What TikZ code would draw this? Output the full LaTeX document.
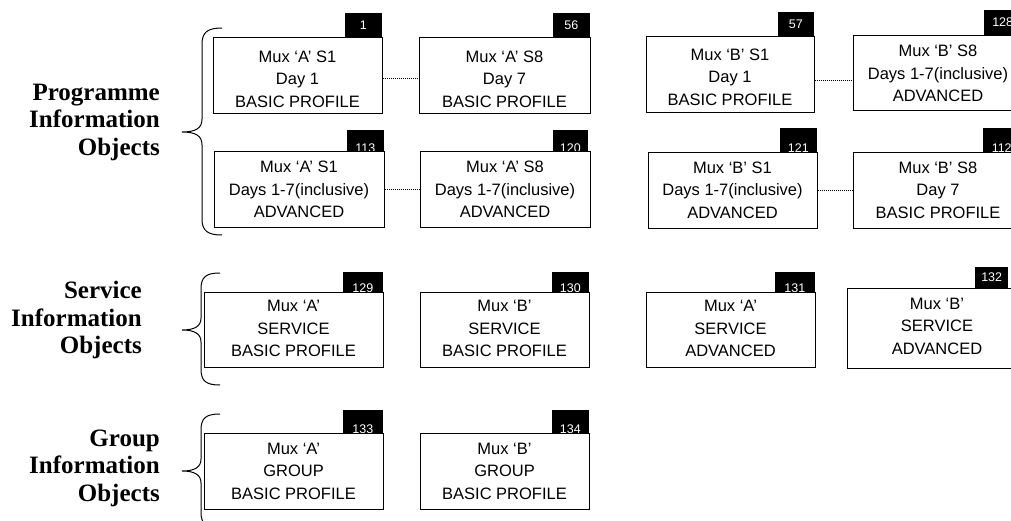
\documentclass[tikz,border=0pt]{standalone}
\usepackage{fontspec}
\setmainfont{Liberation Serif}
\newfontfamily\arialf{Liberation Sans}
\begin{document}
\begin{tikzpicture}[x=1pt,y=-1pt,
  box/.style={draw, fill=white, line width=1pt, minimum width=170pt, minimum height=76pt, inner sep=0pt},
  boxtext/.style={align=center, font=\arialf\fontsize{16.5}{22.5}\selectfont, inner sep=0pt},
  tag/.style={fill=black, draw=none, minimum width=37pt, minimum height=24pt, inner sep=0pt},
  tagnum/.style={text=white, font=\arialf\fontsize{12.5}{12.5}\selectfont, inner sep=0pt},
  lab/.style={align=right, font=\fontsize{25}{27.5}\selectfont\bfseries, inner sep=0pt},
  brace/.style={line width=1pt},
  conn/.style={line width=0.8pt, dash pattern=on 1pt off 1pt}]
\useasboundingbox (0,0) rectangle (1011,520);
\clip (0,0) rectangle (1011,520);

% ---- labels
\node[lab, anchor=east] (lprog) at (160,122) {Programme\\Information\\Objects};
\node[lab, anchor=east] (lserv) at (142,320) {Service\\Information\\Objects};
\node[lab, anchor=east] (lgrp) at (160,468) {Group\\Information\\Objects};

% ---- braces
\draw[brace] (222,28) .. controls (208,28) and (202,32) .. (202,44) -- (202,119) .. controls (202,128) and (196,132) .. (182,132) .. controls (196,132) and (202,136) .. (202,145) -- (202,219) .. controls (202,231) and (208,235) .. (222,235);
\draw[brace] (220,273) .. controls (206,273) and (201,277) .. (201,289) -- (201,318) .. controls (201,326) and (195,330) .. (182,330) .. controls (195,330) and (201,334) .. (201,342) -- (201,369) .. controls (201,381) and (206,385) .. (220,385);
\draw[brace] (220,414) .. controls (206,414) and (201,418) .. (201,430) -- (201,459) .. controls (201,467) and (195,471) .. (182,471) .. controls (195,471) and (201,475) .. (201,483) -- (201,512) .. controls (201,524) and (206,528) .. (220,528);

% ---- tags (drawn before boxes so the boxes cover the lower part of some numbers)
\node[tag, anchor=south east] (t1) at (382,37) {};
\node[tagnum] (n1) at (t1.center) {1};
\node[tag, anchor=south east] (t56) at (590,37) {};
\node[tagnum] (n56) at (t56.center) {56};
\node[tag, anchor=south east, minimum width=36pt] (t57) at (814,36) {};
\node[tagnum] (n57) at (t57.center) {57};
\node[tag, anchor=south west, minimum height=25pt] (t128) at (984,35) {};
\node[tagnum] (n128) at (t128.center) {128};

\node[tag, anchor=south east, minimum height=22pt] (t113) at (384,152) {};
\node[tagnum, anchor=base] (n113) at ([yshift=-0.8pt]t113.south) {113};
\node[tag, anchor=south east, minimum width=35pt, minimum height=22pt] (t120) at (588,152) {};
\node[tagnum, anchor=base] (n120) at ([yshift=-0.8pt]t120.south) {120};
\node[tag, anchor=south east, minimum height=24pt] (t121) at (817,152) {};
\node[tagnum, anchor=base] (n121) at ([yshift=-0.8pt]t121.south) {121};
\node[tag, anchor=south west, minimum height=24pt] (t112) at (983,152) {};
\node[tagnum, anchor=base] (n112) at ([yshift=-0.8pt]t112.south) {112};

\node[tag, anchor=south east, minimum width=40pt, minimum height=20pt] (t129) at (383,292) {};
\node[tagnum, anchor=base] (n129) at ([yshift=-0.8pt]t129.south) {129};
\node[tag, anchor=south east, minimum height=20pt] (t130) at (589,292) {};
\node[tagnum, anchor=base] (n130) at ([yshift=-0.8pt]t130.south) {130};
\node[tag, anchor=south east, minimum width=40pt, minimum height=20pt] (t131) at (815,292) {};
\node[tagnum, anchor=base] (n131) at ([yshift=-0.8pt]t131.south) {131};
\node[tag, anchor=south west, minimum width=33pt, minimum height=21pt] (t132) at (975,288) {};
\node[tagnum] (n132) at (t132.center) {132};

\node[tag, anchor=south east, minimum width=40pt, minimum height=23pt] (t133) at (383,433) {};
\node[tagnum, anchor=base] (n133) at ([yshift=-0.8pt]t133.south) {133};
\node[tag, anchor=south east, minimum height=23pt] (t134) at (589,433) {};
\node[tagnum, anchor=base] (n134) at ([yshift=-0.8pt]t134.south) {134};

% ---- boxes
\node[box, minimum width=169pt] (b1) at (297.5,75) {};
\node[boxtext] (x1) at ([yshift=-4pt]b1.center) {Mux ‘A’ S1\\Day 1\\BASIC PROFILE};
\node[box, minimum width=171pt] (b56) at (504.5,75) {};
\node[boxtext] (x56) at ([yshift=-4pt]b56.center) {Mux ‘A’ S8\\Day 7\\BASIC PROFILE};
\node[box, minimum width=168pt] (b57) at (730,74) {};
\node[boxtext] (x57) at ([yshift=-3pt]b57.center) {Mux ‘B’ S1\\Day 1\\BASIC PROFILE};
\node[box, minimum height=75pt] (b128) at (938,72.5) {};
\node[boxtext] (x128) at ([yshift=-1pt]b128.center) {Mux ‘B’ S8\\Days 1-7(inclusive)\\ADVANCED};

\node[box] (b113) at (299,189.5) {};
\node[boxtext] (x113) at (b113.center) {Mux ‘A’ S1\\Days 1-7(inclusive)\\ADVANCED};
\node[box] (b120) at (505,189.5) {};
\node[boxtext] (x120) at (b120.center) {Mux ‘A’ S8\\Days 1-7(inclusive)\\ADVANCED};
\node[box, minimum width=169pt] (b121) at (732.5,190) {};
\node[boxtext] (x121) at (b121.center) {Mux ‘B’ S1\\Days 1-7(inclusive)\\ADVANCED};
\node[box] (b112) at (938,190) {};
\node[boxtext] (x112) at (b112.center) {Mux ‘B’ S8\\Day 7\\BASIC PROFILE};

\node[box, minimum width=179pt, minimum height=75pt] (b129) at (293.5,329.5) {};
\node[boxtext] (x129) at ([yshift=1pt]b129.center) {Mux ‘A’\\SERVICE\\BASIC PROFILE};
\node[box, minimum width=169pt, minimum height=75pt] (b130) at (504.5,329.5) {};
\node[boxtext] (x130) at ([yshift=1pt]b130.center) {Mux ‘B’\\SERVICE\\BASIC PROFILE};
\node[box, minimum width=169pt, minimum height=75pt] (b131) at (730.5,329.5) {};
\node[boxtext] (x131) at ([yshift=1pt]b131.center) {Mux ‘A’\\SERVICE\\ADVANCED};
\node[box, minimum width=180pt, minimum height=80pt] (b132) at (937,328) {};
\node[boxtext] (x132) at ([yshift=2pt]b132.center) {Mux ‘B’\\SERVICE\\ADVANCED};

\node[box, minimum width=179pt] (b133) at (293.5,471) {};
\node[boxtext] (x133) at (b133.center) {Mux ‘A’\\GROUP\\BASIC PROFILE};
\node[box, minimum width=169pt] (b134) at (504.5,471) {};
\node[boxtext] (x134) at (b134.center) {Mux ‘B’\\GROUP\\BASIC PROFILE};

% ---- dotted connectors
\draw[conn] ([yshift=-3pt]b1.east) -- ([yshift=-3pt]b1.east -| b56.west);
\draw[conn] ([yshift=-6pt]b57.east) -- ([yshift=-6pt]b57.east -| b128.west);
\draw[conn] (b113.east) -- (b113.east -| b120.west);
\draw[conn] (b121.east) -- (b121.east -| b112.west);
\end{tikzpicture}
\end{document}
